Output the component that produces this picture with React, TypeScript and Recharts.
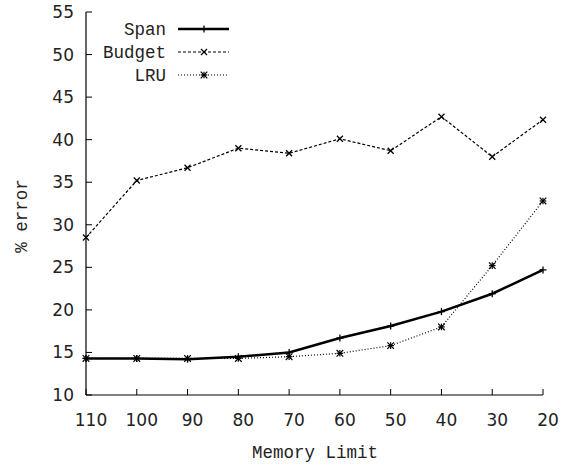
import React from 'react';
import { LineChart, Line, XAxis, YAxis, Customized } from 'recharts';

const memoryLimits = ['110', '100', '90', '80', '70', '60', '50', '40', '30', '20'];
const spanValues = [14.3, 14.3, 14.2, 14.5, 15.0, 16.7, 18.1, 19.8, 21.9, 24.7];
const budgetValues = [28.5, 35.2, 36.7, 39.0, 38.4, 40.1, 38.7, 42.7, 38.0, 42.35];
const lruValues = [14.3, 14.3, 14.3, 14.3, 14.5, 14.9, 15.8, 18.0, 25.2, 32.8];
const yTicks = [10, 15, 20, 25, 30, 35, 40, 45, 50, 55];

const data = memoryLimits.map((m, i) => ({
  mem: m,
  span: spanValues[i],
  budget: budgetValues[i],
  lru: lruValues[i],
}));

const MONO = '"Liberation Mono", "DejaVu Sans Mono", monospace';
const SANS = '"DejaVu Sans", sans-serif';

const PlusMark = ({ cx, cy, s = 3.5 }: any) => (
  <g stroke="#000" strokeWidth={1.3}>
    <line x1={cx - s} y1={cy} x2={cx + s} y2={cy} />
    <line x1={cx} y1={cy - s} x2={cx} y2={cy + s} />
  </g>
);
const CrossMark = ({ cx, cy, s = 3 }: any) => (
  <g stroke="#000" strokeWidth={1.3}>
    <line x1={cx - s} y1={cy - s} x2={cx + s} y2={cy + s} />
    <line x1={cx - s} y1={cy + s} x2={cx + s} y2={cy - s} />
  </g>
);
const StarMark = ({ cx, cy, s = 3.3 }: any) => (
  <g stroke="#000" strokeWidth={1.2}>
    <line x1={cx - s} y1={cy} x2={cx + s} y2={cy} />
    <line x1={cx} y1={cy - s} x2={cx} y2={cy + s} />
    <line x1={cx - s} y1={cy - s} x2={cx + s} y2={cy + s} />
    <line x1={cx - s} y1={cy + s} x2={cx + s} y2={cy - s} />
  </g>
);

const BottomTick = (props: any) => {
  const { x, y, payload } = props;
  return (
    <g>
      <line x1={x} y1={y} x2={x} y2={y - 6} stroke="#000" strokeWidth={1} />
      <text x={x + 5} y={y + 25} textAnchor="middle" dominantBaseline="central" fontFamily={SANS} fontSize={17} fill="#222">
        {payload.value}
      </text>
    </g>
  );
};
const TopTick = (props: any) => {
  const { x, y } = props;
  return <line x1={x} y1={y} x2={x} y2={y + 6} stroke="#000" strokeWidth={1} />;
};
const LeftTick = (props: any) => {
  const { x, y, payload } = props;
  return (
    <g>
      <line x1={x} y1={y} x2={x + 6} y2={y} stroke="#000" strokeWidth={1} />
      <text x={x - 12} y={y} textAnchor="end" dominantBaseline="central" fontFamily={SANS} fontSize={17} fill="#222">
        {payload.value}
      </text>
    </g>
  );
};
const RightTick = (props: any) => {
  const { x, y } = props;
  return <line x1={x} y1={y} x2={x - 6} y2={y} stroke="#000" strokeWidth={1} />;
};

const legendItems = [
  { name: 'Span', width: 2.5, dash: undefined as string | undefined, Mark: PlusMark },
  { name: 'Budget', width: 1.2, dash: '3 2', Mark: CrossMark },
  { name: 'LRU', width: 1.2, dash: '1 2', Mark: StarMark },
];

const Overlay = () => (
  <g>
    {legendItems.map((it, i) => {
      const y = 29 + i * 23;
      return (
        <g key={it.name}>
          <text x={166} y={y + 1} textAnchor="end" dominantBaseline="central" fontFamily={MONO} fontSize={17.5} fill="#222">
            {it.name}
          </text>
          <line x1={178} y1={y} x2={229} y2={y} stroke="#000" strokeWidth={it.width} strokeDasharray={it.dash} />
          <it.Mark cx={204} cy={y} />
        </g>
      );
    })}
    <text x={22} y={216} transform="rotate(-90 22 216)" textAnchor="middle" dominantBaseline="central" fontFamily={MONO} fontSize={17.5} fill="#222">
      % error
    </text>
    <text x={315} y={453} textAnchor="middle" dominantBaseline="central" fontFamily={MONO} fontSize={17.5} fill="#222">
      Memory Limit
    </text>
  </g>
);

export default function App() {
  return (
    <div style={{ position: 'absolute', left: 0, top: 0, width: 568, height: 468 }}>
      <LineChart width={568} height={468} data={data} margin={{ top: 12, right: 25, bottom: 0, left: 0 }}>
        <XAxis
          dataKey="mem"
          xAxisId="bottom"
          scale="point"
          padding={{ left: 0, right: 0 }}
          height={73}
          tickSize={0}
          tickMargin={0}
          tickLine={false}
          axisLine={{ stroke: '#000', strokeWidth: 1.2 }}
          tick={<BottomTick />}
          interval={0}
        />
        <XAxis
          dataKey="mem"
          xAxisId="top"
          orientation="top"
          scale="point"
          padding={{ left: 0, right: 0 }}
          height={0}
          tickSize={0}
          tickMargin={0}
          tickLine={false}
          axisLine={{ stroke: '#000', strokeWidth: 1.2 }}
          tick={<TopTick />}
          interval={0}
        />
        <YAxis
          yAxisId="left"
          domain={[10, 55]}
          ticks={yTicks}
          width={86}
          tickSize={0}
          tickMargin={0}
          tickLine={false}
          axisLine={{ stroke: '#000', strokeWidth: 1.2 }}
          tick={<LeftTick />}
          interval={0}
        />
        <YAxis
          yAxisId="right"
          orientation="right"
          domain={[10, 55]}
          ticks={yTicks}
          width={0}
          tickSize={0}
          tickMargin={0}
          tickLine={false}
          axisLine={{ stroke: '#000', strokeWidth: 1.2 }}
          tick={<RightTick />}
          interval={0}
        />
        <Line
          xAxisId="bottom"
          yAxisId="left"
          dataKey="budget"
          stroke="#000"
          strokeWidth={1.2}
          strokeDasharray="3 2"
          isAnimationActive={false}
          dot={(p: any) => <CrossMark key={`b${p.index}`} cx={p.cx} cy={p.cy} />}
          activeDot={false}
        />
        <Line
          xAxisId="bottom"
          yAxisId="left"
          dataKey="lru"
          stroke="#000"
          strokeWidth={1.2}
          strokeDasharray="1 2"
          isAnimationActive={false}
          dot={(p: any) => <StarMark key={`l${p.index}`} cx={p.cx} cy={p.cy} />}
          activeDot={false}
        />
        <Line
          xAxisId="bottom"
          yAxisId="left"
          dataKey="span"
          stroke="#000"
          strokeWidth={2.5}
          isAnimationActive={false}
          dot={(p: any) => <PlusMark key={`s${p.index}`} cx={p.cx} cy={p.cy} />}
          activeDot={false}
        />
        <Customized component={Overlay} />
      </LineChart>
    </div>
  );
}
